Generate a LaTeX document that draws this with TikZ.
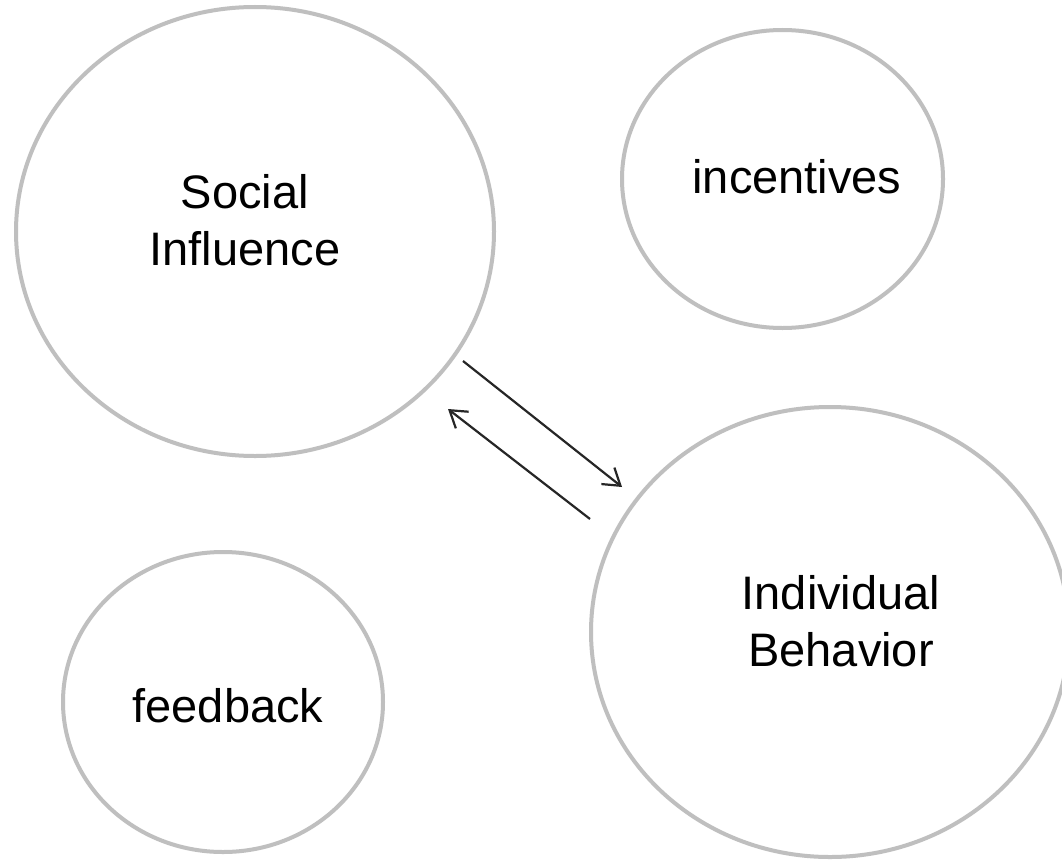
\documentclass[tikz,border=0pt]{standalone}
\usepackage{fontspec}
\setmainfont{Liberation Sans}
\usetikzlibrary{shapes.geometric,arrows.meta}
\definecolor{ringgray}{HTML}{BFBFBF}
\definecolor{arrowdark}{HTML}{262626}
\begin{document}
\begin{tikzpicture}[x=1pt,y=-1pt,
  ring/.style={draw=ringgray,line width=4pt,ellipse,inner sep=0pt,fill=none},
  lbl/.style={inner sep=0pt,font=\fontsize{47}{57}\selectfont,text=black,align=center},
  arr/.style={draw=arrowdark,line width=2.2pt,-{Straight Barb[length=16pt,width=21pt]}}]
\useasboundingbox[fill=white] (0,0) rectangle (1062,859);
% rings
\node[ring,minimum width=478pt,minimum height=449pt] (si) at (255,231.5) {};
\node[ring,minimum width=321pt,minimum height=298pt] (inc) at (782.5,179) {};
\node[ring,minimum width=478pt,minimum height=450pt] (ib) at (830,632) {};
\node[ring,minimum width=320pt,minimum height=300pt] (fb) at (223,702) {};
% labels
\node[lbl,anchor=center] (siT) at (245,220.5) {Social\\Influence};
\node[lbl,anchor=base] (incT) at (797,193) {incentives};
\node[lbl,anchor=center] (ibT) at (841,621) {Individual\\Behavior};
\node[lbl,anchor=base] (fbT) at (228,722) {feedback};
% arrows
\coordinate (a1s) at (463,361);
\coordinate (a1e) at (622,487);
\coordinate (a2s) at (590,519);
\coordinate (a2e) at (448,409);
\draw[arr] (a1s) -- (a1e);
\draw[arr] (a2s) -- (a2e);
\end{tikzpicture}
\end{document}
